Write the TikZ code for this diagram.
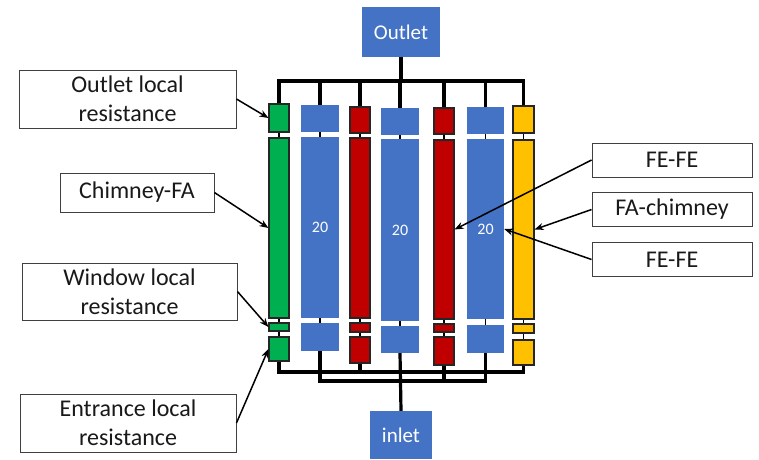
\documentclass[tikz,border=0pt]{standalone}
\usepackage{fontspec}
\setmainfont{Carlito}
\usetikzlibrary{arrows.meta}
\definecolor{BlueClr}{RGB}{68,114,196}
\definecolor{RedClr}{RGB}{192,0,0}
\definecolor{GreenClr}{RGB}{0,176,80}
\definecolor{YellowClr}{RGB}{255,192,0}

\begin{document}
\begin{tikzpicture}[x=1pt,y=-1pt,
  part/.style={draw=black!85,line width=1.1pt,inner sep=0pt},
  blu/.style={fill=BlueClr,inner sep=0pt,text=white},
  lbl/.style={draw=black!75,line width=0.9pt,fill=white,align=center,inner sep=0pt,
    text=black!90,font=\fontsize{24}{29}\selectfont},
  pipe/.style={line width=3.2pt},
  link/.style={line width=1.2pt},
  pointer/.style={line width=1.5pt,-{Stealth[length=9pt,width=7pt]}}]
\useasboundingbox (0,0) rectangle (759,459);

\node[blu,minimum width=78pt,minimum height=50pt,font=\fontsize{21}{25}\selectfont] (outlet) at (401,32) {Outlet};
\node[blu,minimum width=62pt,minimum height=48pt,font=\fontsize{21}{25}\selectfont] (inlet) at (401,435) {inlet};

% green channel
\node[part,fill=GreenClr,minimum width=20pt,minimum height=28pt] (grO) at (279,118) {};
\node[part,fill=GreenClr,minimum width=20pt,minimum height=180pt] (grL) at (279,228) {};
\node[part,fill=GreenClr,minimum width=20pt,minimum height=8pt] (grW) at (279,327) {};
\node[part,fill=GreenClr,minimum width=20pt,minimum height=24pt] (grE) at (279,349) {};
% blue 1
\node[blu,minimum width=38pt,minimum height=27pt] (bAO) at (320,118.5) {};
\node[blu,minimum width=38pt,minimum height=181pt,font=\fontsize{16}{19}\selectfont] (bAL) at (320,227.5) {20};
\node[blu,minimum width=38pt,minimum height=28pt] (bAE) at (320,337) {};
% red 1
\node[part,fill=RedClr,minimum width=20pt,minimum height=26pt] (rAO) at (360,120) {};
\node[part,fill=RedClr,minimum width=20pt,minimum height=180pt] (rAL) at (360,228) {};
\node[part,fill=RedClr,minimum width=20pt,minimum height=9pt] (rAW) at (360,327.5) {};
\node[part,fill=RedClr,minimum width=20pt,minimum height=26pt] (rAE) at (360,350) {};
% blue 2
\node[blu,minimum width=38pt,minimum height=27pt] (bBO) at (400,121.5) {};
\node[blu,minimum width=38pt,minimum height=182pt,font=\fontsize{16}{19}\selectfont] (bBL) at (400,230) {20};
\node[blu,minimum width=38pt,minimum height=27pt] (bBE) at (400,339.5) {};
% red 2
\node[part,fill=RedClr,minimum width=20pt,minimum height=26pt] (rBO) at (444,121) {};
\node[part,fill=RedClr,minimum width=20pt,minimum height=179pt] (rBL) at (444,229.5) {};
\node[part,fill=RedClr,minimum width=20pt,minimum height=8pt] (rBW) at (444,328) {};
\node[part,fill=RedClr,minimum width=20pt,minimum height=28pt] (rBE) at (444,351) {};
% blue 3
\node[blu,minimum width=37pt,minimum height=27pt] (bCO) at (485.5,120.5) {};
\node[blu,minimum width=37pt,minimum height=180pt,font=\fontsize{16}{19}\selectfont] (bCL) at (485.5,229) {20};
\node[blu,minimum width=37pt,minimum height=28pt] (bCE) at (485.5,339) {};
% yellow channel
\node[part,fill=YellowClr,minimum width=21pt,minimum height=27pt] (yeO) at (523.5,119.5) {};
\node[part,fill=YellowClr,minimum width=21pt,minimum height=179pt] (yeL) at (523.5,229.5) {};
\node[part,fill=YellowClr,minimum width=21pt,minimum height=9pt] (yeW) at (523.5,328.5) {};
\node[part,fill=YellowClr,minimum width=21pt,minimum height=25pt] (yeE) at (523.5,352.5) {};

\draw[link] (grO) -- (grL) (grL) -- (grW) (grW) -- (grE);
\draw[link] (bAO) -- (bAL) (bAL) -- (bAE);
\draw[link] (rAO) -- (rAL) (rAL) -- (rAW) (rAW) -- (rAE);
\draw[link] (bBO) -- (bBL) (bBL) -- (bBE);
\draw[link] (rBO) -- (rBL) (rBL) -- (rBW) (rBW) -- (rBE);
\draw[link] (bCO) -- (bCL) (bCL) -- (bCE);
\draw[link] (yeO) -- (yeL) (yeL) -- (yeW) (yeW) -- (yeE);

\coordinate (topM) at (401,81);
\coordinate (lowA) at (401,372);
\coordinate (lowB) at (401,381);

\draw[pipe] (outlet.south) -- (topM);
\draw[pipe] (grO.north) -- (grO.north |- topM) -| (yeO.north);
\draw[pipe] (bAO.north) -- (bAO.north |- topM);
\draw[pipe] (rAO.north) -- (rAO.north |- topM);
\draw[pipe] (bBO.north) -- (bBO.north |- topM);
\draw[pipe] (rBO.north) -- (rBO.north |- topM);
\draw[pipe] (bCO.north) -- (bCO.north |- topM);

\draw[pipe] (grE.south) -- (grE.south |- lowA) -| (yeE.south);
\draw[pipe] (rAE.south) -- (rAE.south |- lowA);
\draw[pipe] (bAE.south) -- (bAE.south |- lowB) -| (bCE.south);
\draw[pipe] (rBE.south) -- (rBE.south |- lowB);
\draw[pipe] (bBE.south) -- (inlet.north);

\node[lbl,minimum width=217pt,minimum height=58pt] (olr) at (127.5,99) {Outlet local\\resistance};
\node[lbl,minimum width=154pt,minimum height=39pt] (cfa) at (137,192.5) {Chimney-FA};
\node[lbl,minimum width=215pt,minimum height=57pt] (wlr) at (129.5,291.5) {Window local\\resistance};
\node[lbl,minimum width=216pt,minimum height=58pt] (elr) at (128,423) {Entrance local\\resistance};
\node[lbl,minimum width=160pt,minimum height=34pt] (feA) at (672,160) {FE-FE};
\node[lbl,minimum width=160pt,minimum height=34pt] (fac) at (672,209.5) {FA-chimney};
\node[lbl,minimum width=160pt,minimum height=34pt] (feB) at (672,259.5) {FE-FE};

\draw[pointer] (olr.east) -- (grO.west);
\draw[pointer] (cfa.east) -- (grL.west);
\draw[pointer] (wlr.east) -- (grW.west);
\draw[pointer] (elr.east) -- (grE.west);
\draw[pointer] (feA.west) -- (rBL.east);
\draw[pointer] (fac.west) -- (yeL.east);
\draw[pointer] (feB.west) -- (bCL.east);

\end{tikzpicture}
\end{document}
